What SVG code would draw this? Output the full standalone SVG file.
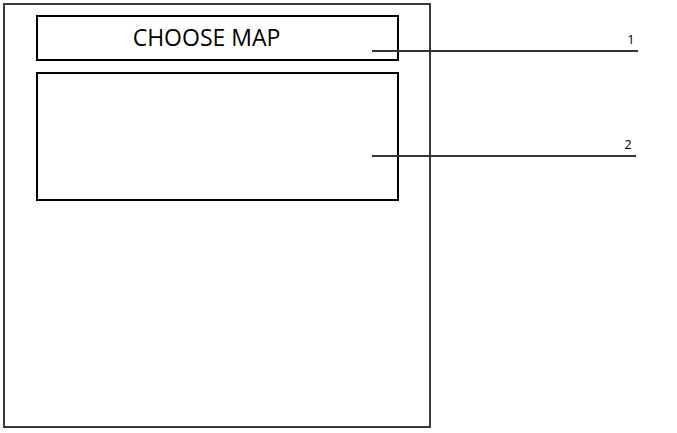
<svg xmlns="http://www.w3.org/2000/svg" width="677" height="433" viewBox="0 0 677 433">
<style>
.box{fill:none;stroke:#000;stroke-width:2}
.frame{fill:#fff;stroke:#3a3a3a;stroke-width:2}
.lead{stroke:#333;stroke-width:2}
.t{font-family:"Open Sans","Liberation Sans",sans-serif;fill:#000}
</style>
<rect width="677" height="433" fill="#fff"/>
<g id="frame"><rect class="frame" x="4" y="4" width="426" height="423"/></g>
<g id="choose-map"><rect class="box" x="37" y="16" width="361" height="44"/>
<text class="t" x="206.5" y="46" font-size="23" text-anchor="middle">CHOOSE MAP</text></g>
<g id="map-area"><rect class="box" x="37" y="73" width="361" height="127"/></g>
<g id="connectors">
<line class="lead" x1="372" y1="51" x2="638" y2="51"/>
<line class="lead" x1="372" y1="156" x2="636" y2="156"/>
</g>
<g id="label-1"><text class="t" x="631" y="44" font-size="13" text-anchor="middle">1</text></g>
<g id="label-2"><text class="t" x="628" y="149" font-size="13" text-anchor="middle">2</text></g>
</svg>
